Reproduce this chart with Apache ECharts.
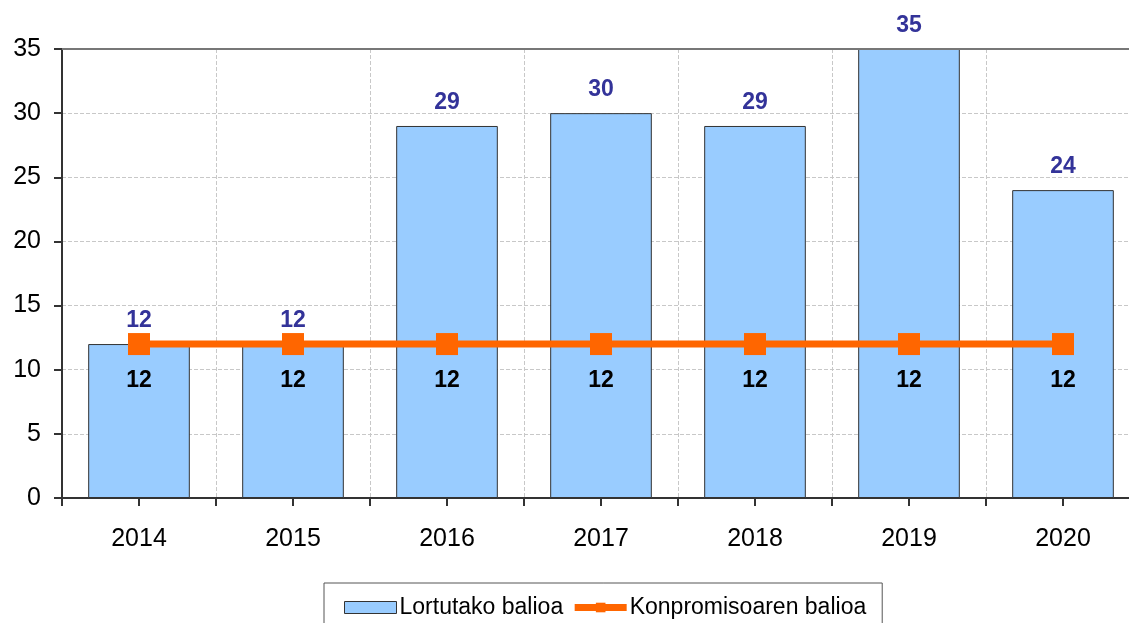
<!DOCTYPE html>
<html>
<head>
<meta charset="utf-8">
<script src="https://cdn.jsdelivr.net/npm/echarts@6/dist/echarts.min.js"></script>
<style>
  html, body { margin: 0; padding: 0; background: #fff; overflow: hidden; }
  #main { width: 1129px; height: 623px; }
</style>
</head>
<body>
<div id="main"></div>
<script>
// datuak
var years = ['2014', '2015', '2016', '2017', '2018', '2019', '2020'];
var lortutakoa = [12, 12, 29, 30, 29, 35, 24];
var konpromisoa = [12, 12, 12, 12, 12, 12, 12];

var myChart = echarts.init(document.getElementById('main'));

var option = {
    animation: false,
    textStyle: { fontFamily: 'Liberation Sans, Arial, sans-serif' },
    grid: {
        left: 62,
        width: 1078,
        top: 49,
        height: 449,
        outerBoundsMode: 'none'
    },
    legend: {
        top: 583,
        left: 324,
        padding: [13, 16, 20, 20],
        borderColor: '#555',
        borderWidth: 1,
        itemGap: 8,
        itemWidth: 52,
        itemHeight: 12,
        textStyle: { fontSize: 23, color: '#000', padding: [0, 0, 0, -2] },
        data: [
            { name: 'Lortutako balioa', icon: 'rect', itemStyle: { borderColor: '#333', borderWidth: 1 } },
            { name: 'Konpromisoaren balioa', lineStyle: { width: 7 } }
        ]
    },
    xAxis: [
        {
            type: 'category',
            data: years,
            boundaryGap: true,
            axisLine: { lineStyle: { color: '#333', width: 2 } },
            axisTick: { show: true, length: 8, lineStyle: { color: '#333', width: 2 } },
            axisLabel: { fontSize: 25, color: '#000', margin: 29 },
            splitLine: { show: true, lineStyle: { color: '#c8c8c8', type: 'dashed' } }
        },
        {
            // erdiko marrak
            type: 'category',
            data: years,
            position: 'bottom',
            axisLine: { show: false },
            axisTick: { show: true, alignWithLabel: true, length: 8, lineStyle: { color: '#333', width: 2 } },
            axisLabel: { show: false },
            splitLine: { show: false }
        }
    ],
    yAxis: {
        type: 'value',
        min: 0,
        max: 35,
        interval: 5,
        axisLine: { show: true, lineStyle: { color: '#333', width: 2 } },
        axisTick: { show: true, length: 8, lineStyle: { color: '#333', width: 2 } },
        axisLabel: { fontSize: 25, color: '#000', margin: 21 },
        splitLine: { show: true, lineStyle: { color: '#c8c8c8', type: 'dashed' } }
    },
    series: [
        {
            name: 'Lortutako balioa',
            type: 'bar',
            data: lortutakoa,
            barWidth: '66%',
            itemStyle: { color: '#99ccff', borderColor: '#333', borderWidth: 1 },
            label: {
                show: true,
                position: 'top',
                distance: 12,
                color: '#333399',
                fontWeight: 'bold',
                fontSize: 23
            },
            z: 2
        },
        {
            name: 'Konpromisoaren balioa',
            type: 'line',
            data: konpromisoa,
            symbol: 'rect',
            symbolSize: 22,
            lineStyle: { color: '#ff6600', width: 7 },
            itemStyle: { color: '#ff6600' },
            label: {
                show: true,
                position: 'bottom',
                distance: 14,
                color: '#000',
                fontWeight: 'bold',
                fontSize: 23
            },
            z: 3
        },
        {
            // goiko marra
            type: 'line',
            data: [],
            markLine: {
                silent: true,
                symbol: 'none',
                label: { show: false },
                lineStyle: { color: '#777', width: 2, type: 'solid' },
                data: [{ yAxis: 35 }]
            }
        }
    ]
};

myChart.setOption(option);
</script>
</body>
</html>
